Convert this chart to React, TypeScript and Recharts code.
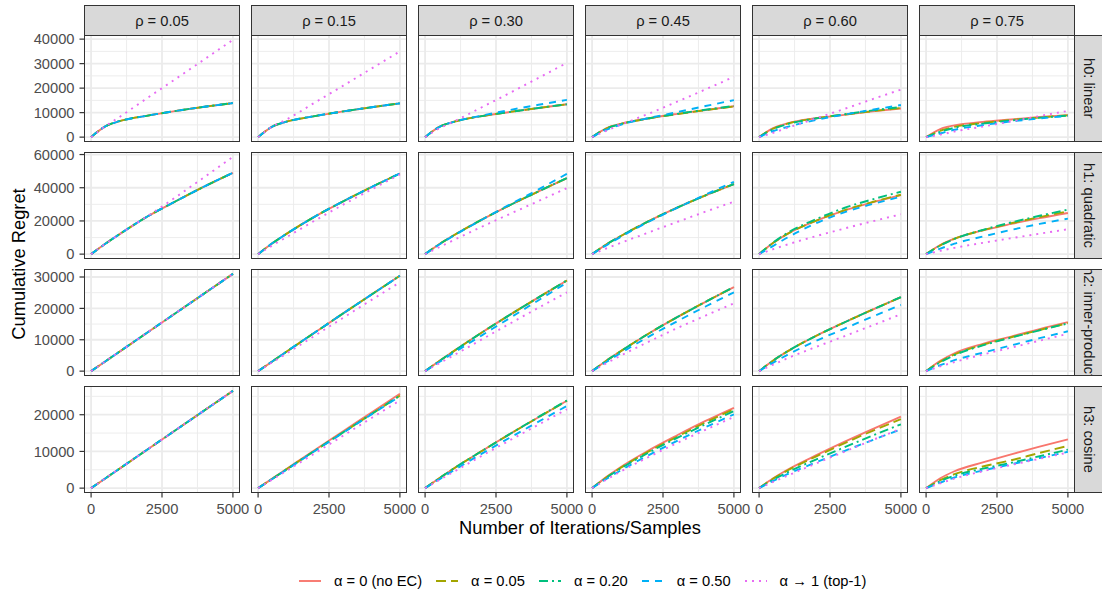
import { CartesianGrid, Line, LineChart, XAxis, YAxis } from "recharts";

const iterations = [0, 500, 1000, 2000, 3000, 4000, 5000];

const rhoLabels = ["ρ = 0.05", "ρ = 0.15", "ρ = 0.30", "ρ = 0.45", "ρ = 0.60", "ρ = 0.75"];
const hypothesisLabels = ["h0: linear", "h1: quadratic", "h2: inner-product", "h3: cosine"];
const alphaLabels = ["α = 0 (no EC)", "α = 0.05", "α = 0.20", "α = 0.50", "α → 1 (top-1)"];
const alphaColors = ["#F8766D", "#A3A500", "#00BF7D", "#00B0F6", "#E76BF3"];
const alphaDashes = [undefined, "10 5", "9 4 2 4", "7 6", "2 5"];

const xTicks = [0, 2500, 5000];
const xMinor = [1250, 3750];
const yTicksByRow = [
  [0, 10000, 20000, 30000, 40000],
  [0, 20000, 40000, 60000],
  [0, 10000, 20000, 30000],
  [0, 10000, 20000],
];
const yMinorByRow = [
  [5000, 15000, 25000, 35000],
  [10000, 30000, 50000],
  [5000, 15000, 25000],
  [5000, 15000, 25000],
];

// each panel: one row per α (0, 0.05, 0.20, 0.50, →1)
const h0Rho05 = [
  [0, 4400, 6500, 8800, 10700, 12400, 13900],
  [0, 4400, 6500, 8800, 10700, 12400, 13900],
  [0, 4400, 6500, 8800, 10700, 12400, 13900],
  [0, 4400, 6500, 8800, 10700, 12400, 13900],
  [0, 4400, 8200, 16100, 23900, 31800, 39700],
];
const h0Rho15 = [
  [0, 4300, 6300, 8600, 10500, 12200, 13800],
  [0, 4300, 6300, 8600, 10500, 12200, 13800],
  [0, 4300, 6300, 8600, 10500, 12200, 13800],
  [0, 4300, 6300, 8600, 10500, 12200, 13800],
  [0, 4300, 7200, 14100, 21000, 28000, 35000],
];
const h0Rho30 = [
  [0, 4200, 6200, 8600, 10300, 11900, 13400],
  [0, 4200, 6200, 8600, 10300, 11900, 13400],
  [0, 4200, 6200, 8600, 10300, 11900, 13400],
  [0, 4100, 6200, 8800, 11100, 13200, 15200],
  [0, 3600, 6300, 12200, 18100, 24200, 30300],
];
const h0Rho45 = [
  [0, 3600, 5400, 7700, 9500, 11100, 12600],
  [0, 3500, 5300, 7600, 9400, 11000, 12500],
  [0, 3500, 5300, 7700, 9500, 11200, 12700],
  [0, 3000, 5000, 7800, 10200, 12700, 15100],
  [0, 2600, 5000, 9600, 14500, 19500, 24600],
];
const h0Rho60 = [
  [0, 3700, 5600, 7700, 9100, 10500, 11700],
  [0, 3500, 5500, 7700, 9200, 10600, 11900],
  [0, 3300, 5300, 7600, 9300, 10900, 12300],
  [0, 2500, 4200, 7000, 9200, 11200, 13100],
  [0, 1800, 3800, 7600, 11500, 15500, 19400],
];
const h0Rho75 = [
  [0, 3300, 4800, 6200, 7200, 8200, 9000],
  [0, 2600, 4200, 5800, 7000, 8000, 8900],
  [0, 2200, 3800, 5500, 6800, 7900, 8800],
  [0, 1500, 3000, 4900, 6400, 7600, 8700],
  [0, 1000, 2300, 4300, 6400, 8600, 10700],
];

const h1Rho05 = [
  [0, 6200, 12000, 22800, 32000, 40800, 49000],
  [0, 6200, 12000, 22800, 32000, 40800, 49000],
  [0, 6200, 12000, 22800, 32000, 40800, 49000],
  [0, 6200, 12000, 22800, 32000, 40800, 49000],
  [0, 6200, 12000, 23000, 34500, 46500, 58600],
];
const h1Rho15 = [
  [0, 6500, 12200, 22600, 31800, 40400, 48600],
  [0, 6500, 12200, 22600, 31800, 40400, 48600],
  [0, 6500, 12200, 22600, 31800, 40400, 48600],
  [0, 6500, 12200, 22600, 31800, 40400, 48600],
  [0, 5200, 10200, 20200, 29800, 39000, 48000],
];
const h1Rho30 = [
  [0, 6000, 11200, 20800, 29600, 37800, 45800],
  [0, 6000, 11200, 20800, 29600, 37800, 45800],
  [0, 6000, 11200, 20800, 29600, 37800, 45800],
  [0, 5800, 11000, 20700, 30000, 39000, 48400],
  [0, 4200, 8400, 16500, 24300, 32000, 39800],
];
const h1Rho45 = [
  [0, 5800, 10800, 19900, 28000, 35400, 42200],
  [0, 5800, 10800, 19900, 28000, 35400, 42200],
  [0, 5800, 10800, 19900, 28000, 35400, 42200],
  [0, 5300, 10300, 19500, 27900, 35900, 43600],
  [0, 3400, 6700, 13100, 19400, 25600, 31600],
];
const h1Rho60 = [
  [0, 6800, 12200, 20000, 26200, 31200, 35600],
  [0, 6800, 12200, 20100, 26400, 31400, 35800],
  [0, 7000, 12800, 21000, 27800, 33000, 37600],
  [0, 5000, 10000, 18500, 25200, 30200, 34600],
  [0, 3000, 5800, 10800, 15400, 19800, 24000],
];
const h1Rho75 = [
  [0, 5500, 9300, 14300, 18200, 21700, 24800],
  [0, 5300, 9200, 14400, 18600, 22300, 25800],
  [0, 5200, 9200, 14600, 19100, 23100, 26800],
  [0, 3300, 6300, 10600, 14600, 18200, 21400],
  [0, 2000, 3800, 6800, 9600, 12300, 15000],
];

const h2Rho05 = [
  [0, 3100, 6200, 12400, 18600, 24800, 31000],
  [0, 3100, 6200, 12400, 18600, 24800, 31000],
  [0, 3100, 6200, 12400, 18600, 24800, 31000],
  [0, 3100, 6200, 12400, 18600, 24800, 31000],
  [0, 3100, 6200, 12400, 18600, 24800, 31000],
];
const h2Rho15 = [
  [0, 3100, 6200, 12300, 18400, 24400, 30400],
  [0, 3100, 6200, 12300, 18400, 24400, 30400],
  [0, 3100, 6200, 12300, 18400, 24400, 30400],
  [0, 3100, 6200, 12300, 18400, 24400, 30400],
  [0, 2800, 5600, 11300, 17000, 22700, 28300],
];
const h2Rho30 = [
  [0, 3200, 6300, 12300, 18000, 23500, 28900],
  [0, 3200, 6300, 12300, 18000, 23500, 28900],
  [0, 3200, 6300, 12300, 18000, 23500, 28900],
  [0, 2900, 5800, 11400, 17000, 22600, 28200],
  [0, 2500, 5000, 10100, 15200, 20200, 25100],
];
const h2Rho45 = [
  [0, 3300, 6300, 12000, 17200, 22100, 26800],
  [0, 3300, 6300, 12000, 17200, 22100, 26800],
  [0, 3300, 6300, 12000, 17200, 22100, 26800],
  [0, 2900, 5700, 11000, 15900, 20600, 25100],
  [0, 2500, 4900, 9400, 13700, 17700, 21600],
];
const h2Rho60 = [
  [0, 3400, 6300, 11200, 15500, 19600, 23600],
  [0, 3400, 6300, 11200, 15500, 19600, 23600],
  [0, 3400, 6300, 11200, 15500, 19600, 23600],
  [0, 2700, 5200, 9600, 13500, 17400, 21100],
  [0, 2100, 4100, 7700, 11100, 14600, 18100],
];
const h2Rho75 = [
  [0, 3300, 5700, 8700, 11000, 13400, 15600],
  [0, 3000, 5300, 8400, 10800, 13100, 15300],
  [0, 2800, 5100, 8200, 10700, 13000, 15200],
  [0, 1900, 3500, 5900, 8200, 10500, 12700],
  [0, 1500, 2900, 5300, 7500, 9700, 11900],
];

const h3Rho05 = [
  [0, 2650, 5300, 10600, 15900, 21200, 26500],
  [0, 2650, 5300, 10600, 15900, 21200, 26500],
  [0, 2650, 5300, 10600, 15900, 21200, 26500],
  [0, 2650, 5300, 10600, 15900, 21200, 26500],
  [0, 2650, 5300, 10600, 15900, 21200, 26500],
];
const h3Rho15 = [
  [0, 2600, 5200, 10400, 15500, 20600, 25700],
  [0, 2550, 5100, 10200, 15200, 20200, 25200],
  [0, 2550, 5100, 10200, 15200, 20200, 25200],
  [0, 2500, 5000, 10100, 15100, 20100, 25000],
  [0, 2350, 4700, 9500, 14300, 19100, 23900],
];
const h3Rho30 = [
  [0, 2700, 5300, 10100, 14800, 19300, 23800],
  [0, 2700, 5300, 10100, 14800, 19300, 23800],
  [0, 2700, 5300, 10100, 14800, 19400, 23900],
  [0, 2400, 4800, 9400, 13800, 18100, 22400],
  [0, 2200, 4400, 8800, 13100, 17300, 21500],
];
const h3Rho45 = [
  [0, 3000, 5700, 10300, 14400, 18300, 21900],
  [0, 2900, 5500, 10000, 14000, 17900, 21500],
  [0, 2800, 5300, 9700, 13700, 17400, 21000],
  [0, 2500, 4800, 9000, 12900, 16600, 20100],
  [0, 2300, 4500, 8500, 12300, 15900, 19400],
];
const h3Rho60 = [
  [0, 2700, 5000, 8900, 12600, 16100, 19500],
  [0, 2600, 4800, 8600, 12200, 15600, 18800],
  [0, 2300, 4300, 7800, 11100, 14300, 17400],
  [0, 2000, 3800, 7000, 10100, 13100, 16000],
  [0, 1700, 3400, 6700, 9900, 13100, 16200],
];
const h3Rho75 = [
  [0, 2700, 4600, 7000, 9200, 11300, 13300],
  [0, 2200, 3800, 5900, 7600, 9600, 11500],
  [0, 1900, 3400, 5300, 6900, 8700, 10500],
  [0, 1500, 2900, 4800, 6500, 8200, 9900],
  [0, 1300, 2600, 4600, 6300, 8000, 9700],
];

const panelGrid = [
  [h0Rho05, h0Rho15, h0Rho30, h0Rho45, h0Rho60, h0Rho75],
  [h1Rho05, h1Rho15, h1Rho30, h1Rho45, h1Rho60, h1Rho75],
  [h2Rho05, h2Rho15, h2Rho30, h2Rho45, h2Rho60, h2Rho75],
  [h3Rho05, h3Rho15, h3Rho30, h3Rho45, h3Rho60, h3Rho75],
];

const FONT = '"Liberation Sans", Arial, sans-serif';
const PANEL_W = 156;
const PANEL_H = 107;
const colLefts = [84, 251, 418, 585, 752, 919];
const rowTops = [35, 152, 269, 386];
const Y_AXIS_W = 70;
const X_AXIS_H = 30;
const PAD = 12; // room so edge tick labels are not clipped

const tickStyle = { fill: "#4D4D4D", fontSize: 14.7, fontFamily: FONT };

type PanelProps = {
  series: number[][];
  domain: [number, number];
  yTicks: number[];
  yMinor: number[];
  showX: boolean;
  showY: boolean;
  mt: number;
  mb: number;
  mr: number;
};

function Panel({ series, domain, yTicks, yMinor, showX, showY, mt, mb, mr }: PanelProps) {
  const data = iterations.map((x, i) => {
    const row: Record<string, number> = { x };
    series.forEach((s, k) => (row["s" + k] = s[i]));
    return row;
  });
  return (
    <LineChart
      width={PANEL_W + (showY ? Y_AXIS_W : 0) + mr}
      height={PANEL_H + (showX ? X_AXIS_H : 0) + mt + mb}
      data={data}
      margin={{ top: mt, right: mr, bottom: mb, left: 0 }}
    >
      <CartesianGrid stroke="#EBEBEB" strokeWidth={0.9} verticalValues={xMinor} horizontalValues={yMinor} />
      <CartesianGrid stroke="#EBEBEB" strokeWidth={1.8} verticalValues={xTicks} horizontalValues={yTicks} />
      <XAxis
        type="number"
        dataKey="x"
        domain={[-250, 5250]}
        ticks={xTicks}
        interval={0}
        allowDataOverflow
        hide={!showX}
        height={X_AXIS_H}
        axisLine={false}
        tickLine={{ stroke: "#333333", strokeWidth: 1.2 }}
        tickSize={4.5}
        tickMargin={6}
        tick={tickStyle}
      />
      <YAxis
        type="number"
        domain={domain}
        ticks={yTicks}
        interval={0}
        allowDataOverflow
        hide={!showY}
        width={Y_AXIS_W}
        axisLine={false}
        tickLine={{ stroke: "#333333", strokeWidth: 1.2 }}
        tickSize={4.5}
        tickMargin={5}
        tick={tickStyle}
      />
      {series.map((_, k) => (
        <Line
          key={k}
          type="monotone"
          dataKey={"s" + k}
          stroke={alphaColors[k]}
          strokeWidth={1.9}
          strokeDasharray={alphaDashes[k]}
          dot={false}
          activeDot={false}
          isAnimationActive={false}
        />
      ))}
    </LineChart>
  );
}

export default function App() {
  return (
    <div
      style={{
        position: "absolute",
        left: 0,
        top: 0,
        width: 1102,
        height: 597,
        background: "#FFFFFF",
        overflow: "hidden",
        fontFamily: FONT,
      }}
    >
      {panelGrid.map((rowPanels, r) => {
        const rowMax = Math.max(...rowPanels.flat(2));
        const domain: [number, number] = [-0.05 * rowMax, 1.05 * rowMax];
        return rowPanels.map((series, c) => {
          const showY = c === 0;
          const showX = r === panelGrid.length - 1;
          const mt = showY ? PAD : 0;
          const mb = showY && !showX ? PAD : 0;
          const mr = showX ? 2 * PAD : 0;
          return (
            <div
              key={`${r}-${c}`}
              style={{
                position: "absolute",
                left: colLefts[c] - (showY ? Y_AXIS_W : 0),
                top: rowTops[r] - mt,
              }}
            >
              <Panel
                series={series}
                domain={domain}
                yTicks={yTicksByRow[r]}
                yMinor={yMinorByRow[r]}
                showX={showX}
                showY={showY}
                mt={mt}
                mb={mb}
                mr={mr}
              />
            </div>
          );
        });
      })}

      {/* panel borders */}
      {rowTops.map((top, r) =>
        colLefts.map((left, c) => (
          <div
            key={`b${r}-${c}`}
            style={{
              position: "absolute",
              left,
              top,
              width: PANEL_W,
              height: PANEL_H,
              boxSizing: "border-box",
              border: "1px solid #333333",
              pointerEvents: "none",
            }}
          />
        ))
      )}

      {/* top strips */}
      {rhoLabels.map((label, c) => (
        <div
          key={label}
          style={{
            position: "absolute",
            left: colLefts[c],
            top: 5,
            width: PANEL_W,
            height: 31,
            boxSizing: "border-box",
            border: "1px solid #333333",
            background: "#D9D9D9",
            color: "#1A1A1A",
            fontSize: 14.7,
            display: "flex",
            alignItems: "center",
            justifyContent: "center",
          }}
        >
          {label}
        </div>
      ))}

      {/* right strips */}
      {hypothesisLabels.map((label, r) => (
        <div
          key={label}
          style={{
            position: "absolute",
            left: colLefts[5] + PANEL_W - 1,
            top: rowTops[r],
            width: 30,
            height: PANEL_H,
            boxSizing: "border-box",
            border: "1px solid #333333",
            background: "#D9D9D9",
            color: "#1A1A1A",
            fontSize: 14.7,
            overflow: "hidden",
            display: "flex",
            alignItems: "center",
            justifyContent: "center",
          }}
        >
          <span style={{ writingMode: "vertical-rl", whiteSpace: "nowrap" }}>{label}</span>
        </div>
      ))}

      {/* axis titles */}
      <div
        style={{
          position: "absolute",
          left: 19,
          top: 264,
          transform: "translate(-50%, -50%) rotate(-90deg)",
          fontSize: 18.3,
          whiteSpace: "nowrap",
          color: "#000000",
        }}
      >
        Cumulative Regret
      </div>
      <div
        style={{
          position: "absolute",
          left: 580,
          top: 528,
          transform: "translate(-50%, -50%)",
          fontSize: 18.3,
          whiteSpace: "nowrap",
          color: "#000000",
        }}
      >
        Number of Iterations/Samples
      </div>

      {/* legend */}
      <div
        style={{
          position: "absolute",
          left: 298,
          top: 570,
          height: 22,
          display: "flex",
          alignItems: "center",
          fontSize: 14.7,
          color: "#000000",
          whiteSpace: "nowrap",
        }}
      >
        {alphaLabels.map((label, k) => (
          <div key={label} style={{ display: "flex", alignItems: "center", marginRight: 13 }}>
            <svg width={24} height={14} style={{ marginRight: 12 }}>
              <line
                x1={1}
                y1={7}
                x2={23}
                y2={7}
                stroke={alphaColors[k]}
                strokeWidth={1.9}
                strokeDasharray={alphaDashes[k]}
              />
            </svg>
            <span>{label}</span>
          </div>
        ))}
      </div>
    </div>
  );
}
